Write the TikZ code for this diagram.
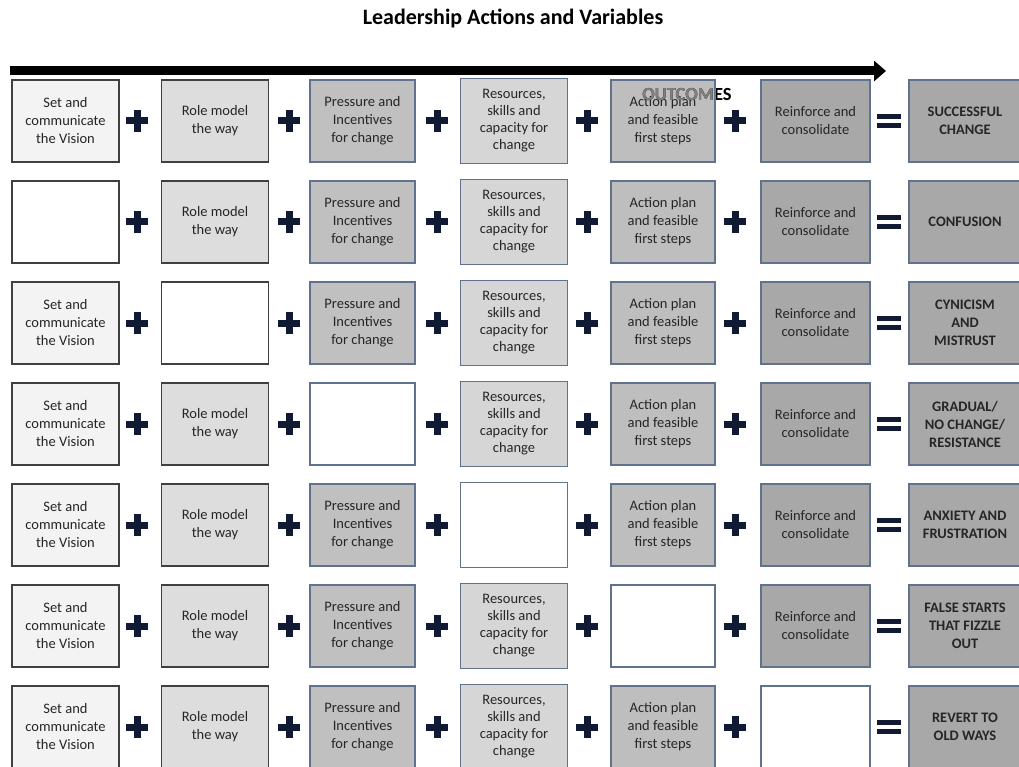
\documentclass[tikz,border=0pt]{standalone}
\usepackage{fontspec}
\setmainfont{Carlito}
\usetikzlibrary{arrows.meta}

\definecolor{darkedge}{RGB}{64,64,64}
\definecolor{blueedge}{RGB}{96,114,142}
\definecolor{navy}{RGB}{16,26,50}
\definecolor{visionfill}{RGB}{243,243,243}
\definecolor{rolefill}{RGB}{221,221,221}
\definecolor{pressfill}{RGB}{192,192,192}
\definecolor{resfill}{RGB}{214,214,214}
\definecolor{actfill}{RGB}{190,190,190}
\definecolor{reinffill}{RGB}{168,168,168}

\begin{document}
\begin{tikzpicture}[x=1pt, y=-1pt,
	box/.style={draw, line width=1.2pt, minimum width=107pt, minimum height=82pt, inner sep=2pt,
		align=center, text=black!85, font=\fontsize{14.5}{18}\selectfont},
	vision/.style={box, draw=darkedge, fill=visionfill},
	rolemodel/.style={box, draw=darkedge, fill=rolefill},
	pressure/.style={box, draw=blueedge, fill=pressfill, minimum width=105pt},
	resources/.style={box, draw=blueedge, fill=resfill, minimum height=85pt, font=\fontsize{14.5}{17}\selectfont},
	actionplan/.style={box, draw=blueedge, fill=actfill, minimum width=104pt},
	reinforce/.style={box, draw=blueedge, fill=reinffill, minimum width=109pt},
	outcome/.style={box, draw=blueedge, fill=reinffill, minimum width=112pt, font=\bfseries\fontsize{14.5}{18}\selectfont},
	outlabel/.style={font=\bfseries\fontsize{18.5}{22}\selectfont, inner sep=0pt},
	plus/.pic={\fill[navy] (-11,-3.5) rectangle (11,3.5); \fill[navy] (-3.5,-11) rectangle (3.5,11);},
	equal/.pic={\fill[navy] (-12,-7) rectangle (12,-1.8); \fill[navy] (-12,1.8) rectangle (12,7);}
]
	\useasboundingbox (0,0) rectangle (1019,767);

	%% Titel
	\node[font=\bfseries\fontsize{22}{26}\selectfont] (title) at (513,18) {Leadership Actions and Variables};

	%% Pfeil
	\coordinate (arrS) at (10,71);
	\coordinate (arrE) at (886,71);
	\draw[line width=9pt, -{Triangle[length=12pt, width=20pt]}] (arrS) -- (arrE);

	%% Zeilen: \blank = leeres Feld
	\foreach \r/\blank/\res in {1/0/{SUCCESSFUL\\CHANGE}, 2/1/{CONFUSION}, 3/2/{CYNICISM\\AND\\MISTRUST},
		4/3/{GRADUAL/\\NO CHANGE/\\RESISTANCE}, 5/4/{ANXIETY AND\\FRUSTRATION},
		6/5/{FALSE STARTS\\THAT FIZZLE\\OUT}, 7/6/{REVERT TO\\OLD WAYS}}{
		\pgfmathsetmacro\yy{121+101*(\r-1)}
		\foreach \c/\xx/\kind/\txt in {1/65.5/vision/{Set and\\communicate\\the Vision},
			2/215/rolemodel/{Role model\\the way}, 3/362.5/pressure/{Pressure and\\Incentives\\for change},
			4/514/resources/{Resources,\\skills and\\capacity for\\change},
			5/663/actionplan/{Action plan\\and feasible\\first steps}, 6/815.5/reinforce/{Reinforce and\\consolidate}}{
			\ifnum\c=\blank\relax
				\node[\kind, fill=white] (b\r-\c) at (\xx,\yy) {};
			\else
				\node[\kind] (b\r-\c) at (\xx,\yy) {\txt};
			\fi
		}
		\node[outcome] (o\r) at (965,\yy) {\res};
		%% Plus / Gleich
		\foreach \px in {137,289,437,587,735}
			\pic at (\px,\yy) {plus};
		\pic at (889,\yy) {equal};
	}

	%% OUTCOMES, halb verdeckt
	\node[outlabel] (outc) at (687,95) {OUTCOMES};
	\begin{scope}
		\clip (b1-5.north west) rectangle (b1-5.south east);
		\node[outlabel, text=black!50] at (outc) {OUTCOMES};
	\end{scope}

%\draw (current bounding box.south west) rectangle (current bounding box.north east);
\end{tikzpicture}
\end{document}
